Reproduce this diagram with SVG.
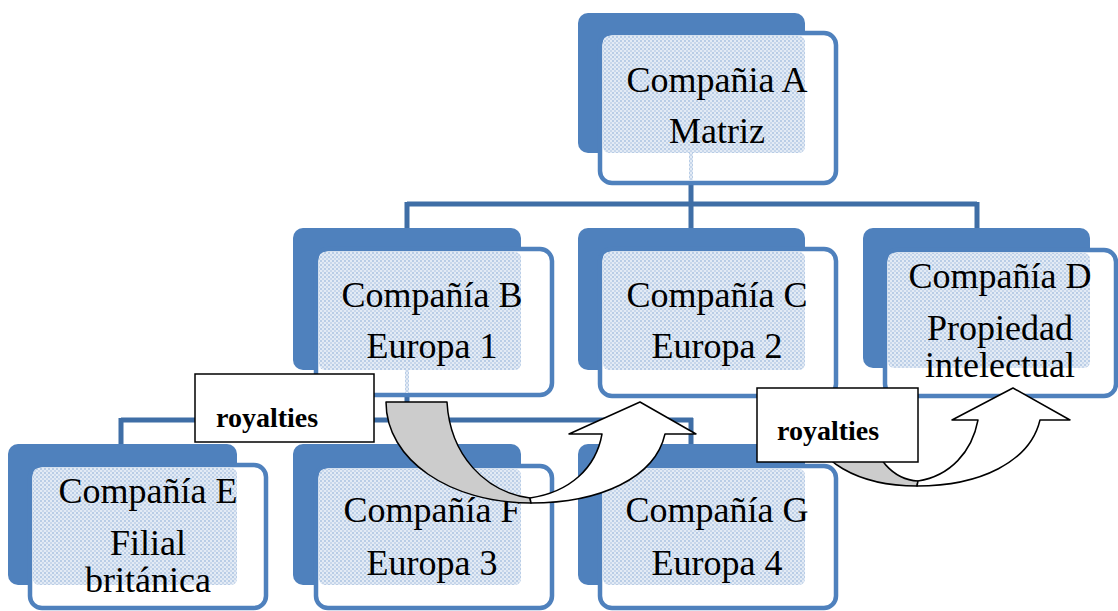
<svg xmlns="http://www.w3.org/2000/svg" width="1118" height="611" viewBox="0 0 1118 611">
<defs>
<pattern id="dots" width="4" height="4" patternUnits="userSpaceOnUse">
<rect width="4" height="4" fill="#e3ebf5"/>
<rect x="0" y="0" width="2" height="2" fill="#b9cde6"/>
<rect x="2" y="2" width="2" height="2" fill="#c8d7eb"/>
</pattern>
<style>
.back{fill:#4f81bd}
.front{fill:#ffffff;stroke:#4f81bd;stroke-width:4.5}
.dots{fill:url(#dots)}
.conn{fill:none;stroke:#3f6ea6;stroke-width:5}
.t{font-family:"Liberation Serif","DejaVu Serif","Times New Roman",serif;font-size:36px;fill:#000;text-anchor:middle}
.lbl{fill:#fff;stroke:#000;stroke-width:1.5}
.lt{font-family:"Liberation Serif","DejaVu Serif","Times New Roman",serif;font-size:28px;font-weight:bold;fill:#000}
.grey{fill:#cccccc;stroke:#000;stroke-width:1.5;stroke-linejoin:round}
.white{fill:#ffffff;stroke:#000;stroke-width:1.5;stroke-linejoin:round}
</style>
</defs>
<rect width="1118" height="611" fill="#ffffff"/>

<g id="connectors">
<path class="conn" d="M691,183 V204 M407,204 H977 M407,202 V228 M691,204 V228 M977,202 V228"/>
<path class="conn" d="M407,395 V420 M121,420 H693 M121,418 V444 M407,420 V444 M691,418 V444"/>
</g>

<g id="nodeA">
<rect class="back" x="578" y="13" width="227" height="140" rx="10"/>
<rect class="front" x="600" y="33" width="236" height="150" rx="12"/>
<rect class="dots" x="603" y="36" width="202" height="117" rx="6"/>
<rect class="dots" x="689" y="153" width="4" height="27"/>
<text class="t" x="717" y="92">Compañia A</text>
<text class="t" x="717" y="143">Matriz</text>
</g>

<g id="nodeB">
<rect class="back" x="293" y="228" width="228" height="142" rx="10"/>
<rect class="front" x="316" y="249" width="236" height="146" rx="12"/>
<rect class="dots" x="319" y="252" width="202" height="118" rx="6"/>
<rect class="dots" x="405" y="370" width="4" height="23"/>
<text class="t" x="432" y="307">Compañía B</text>
<text class="t" x="432" y="358">Europa 1</text>
</g>

<g id="nodeC">
<rect class="back" x="578" y="228" width="227" height="142" rx="10"/>
<rect class="front" x="600" y="249" width="236" height="147" rx="12"/>
<rect class="dots" x="603" y="252" width="202" height="118" rx="6"/>
<text class="t" x="717" y="307">Compañía C</text>
<text class="t" x="717" y="358">Europa 2</text>
</g>

<g id="nodeD">
<rect class="back" x="863" y="228" width="227" height="140" rx="10"/>
<rect class="front" x="885" y="250" width="231" height="146" rx="12"/>
<rect class="dots" x="888" y="253" width="202" height="115" rx="6"/>
<text class="t" x="1000" y="288">Compañía D</text>
<text class="t" x="1000" y="340">Propiedad</text>
<text class="t" x="1000" y="377">intelectual</text>
</g>

<g id="nodeE">
<rect class="back" x="8" y="444" width="229" height="141" rx="10"/>
<rect class="front" x="30" y="465" width="236" height="143" rx="12"/>
<rect class="dots" x="33" y="468" width="204" height="117" rx="6"/>
<text class="t" x="148" y="503">Compañía E</text>
<text class="t" x="148" y="555">Filial</text>
<text class="t" x="148" y="592">británica</text>
</g>

<g id="nodeF">
<rect class="back" x="293" y="444" width="228" height="141" rx="10"/>
<rect class="front" x="316" y="466" width="236" height="142" rx="12"/>
<rect class="dots" x="319" y="469" width="202" height="116" rx="6"/>
<text class="t" x="432" y="522">Compañía F</text>
<text class="t" x="432" y="575">Europa 3</text>
</g>

<g id="nodeG">
<rect class="back" x="578" y="444" width="227" height="141" rx="10"/>
<rect class="front" x="600" y="466" width="236" height="142" rx="12"/>
<rect class="dots" x="603" y="469" width="202" height="116" rx="6"/>
<text class="t" x="717" y="522">Compañía G</text>
<text class="t" x="717" y="575">Europa 4</text>
</g>

<g id="arrow1">
<path class="grey" d="M386,402 L447,402 C450,455 485,492 530,498 L531,503 C450,503 386,460 386,402 Z"/>
<path class="white" d="M530,498 C570,492 596,468 602,434 L569,434 L640,402 L696,434 L665,434 C655,478 600,503 531,503 Z"/>
</g>

<g id="arrow2">
<path class="grey" d="M810,420 L868,420 C872,460 895,480 918,481 L917,486 C860,486 812,462 810,420 Z"/>
<path class="white" d="M918,481 C950,476 972,452 978,420 L952,420 L1013,388 L1070,420 L1040,420 C1030,462 980,486 917,486 Z"/>
</g>

<g id="royalties1">
<rect class="lbl" x="195" y="374" width="179" height="68"/>
<text class="lt" x="216" y="427">royalties</text>
</g>

<g id="royalties2">
<rect class="lbl" x="757" y="388" width="161" height="74"/>
<text class="lt" x="777" y="440">royalties</text>
</g>
</svg>
